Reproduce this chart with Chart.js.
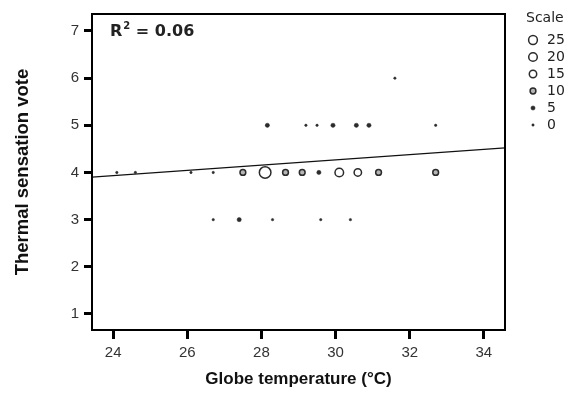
<!DOCTYPE html>
<html>
<head>
<meta charset="utf-8">
<script src="https://cdn.jsdelivr.net/npm/chart.js@4"></script>
<style>
  html, body { margin: 0; padding: 0; background: #fff; }
  #wrap { width: 571px; height: 401px; }
</style>
</head>
<body>
<div id="wrap"><canvas id="c" width="571" height="401"></canvas></div>
<script>
// observations: globe temperature, vote, and count ("Scale")
const globeTemp = [24.1, 24.6, 26.1, 26.7, 27.5, 28.1, 28.65, 29.1, 29.55, 30.1, 30.6, 31.16, 32.7,
                   26.7, 27.4, 28.3, 29.6, 30.4,
                   28.16, 29.2, 29.5, 29.93, 30.56, 30.9, 32.7,
                   31.6];
const sensationVote = [4, 4, 4, 4, 4, 4, 4, 4, 4, 4, 4, 4, 4,
                       3, 3, 3, 3, 3,
                       5, 5, 5, 5, 5, 5, 5,
                       6];
const scaleCount = [0, 0, 0, 0, 10, 25, 10, 10, 5, 20, 15, 10, 10,
                    0, 5, 0, 0, 0,
                    5, 0, 0, 5, 5, 5, 0,
                    0];

// fit line end points
const fitX = [23.43, 34.57];
const fitY = [3.90, 4.52];

const xTicks = [24, 26, 28, 30, 32, 34];
const yTicks = [1, 2, 3, 4, 5, 6, 7];
const legendScale = [25, 20, 15, 10, 5, 0];

const INK = "#2b2b2b";
const SANS = "'Liberation Sans', Arial, sans-serif";
const WIDE = "'DejaVu Sans', Verdana, sans-serif";

function markRadius(s) {
  if (s >= 25) return 5.8;
  if (s >= 20) return 4.3;
  if (s >= 15) return 3.7;
  if (s >= 10) return 2.9;
  if (s >= 5) return 2.1;
  return 1.2;
}
function markFill(s) {
  return s >= 15 ? "#ffffff" : (s >= 10 ? "#b5b5b5" : INK);
}
function markBorder(s) {
  return s >= 10 ? 1.5 : 0.5;
}

const points = globeTemp.map((t, i) => ({ x: t, y: sensationVote[i], s: scaleCount[i] }));

const frame = {
  id: "frame",
  afterDraw(chart) {
    const { ctx, chartArea: a } = chart;
    ctx.save();
    ctx.strokeStyle = "#000";
    ctx.lineWidth = 2;
    ctx.strokeRect(a.left, a.top, a.right - a.left, a.bottom - a.top);

    // R² label, with a raised 2
    ctx.fillStyle = "#222";
    ctx.textBaseline = "alphabetic";
    ctx.textAlign = "left";
    ctx.font = "bold 16px " + WIDE;
    let x = 110;
    ctx.fillText("R", x, 36);
    x += ctx.measureText("R").width + 1;
    ctx.font = "bold 10px " + WIDE;
    ctx.fillText("2", x, 29);
    x += ctx.measureText("2").width;
    ctx.font = "bold 16px " + WIDE;
    ctx.fillText(" = 0.06", x, 36);

    // size legend
    ctx.textBaseline = "middle";
    ctx.font = "14px " + WIDE;
    ctx.fillStyle = "#222";
    ctx.fillText("Scale", 526, 18);
    legendScale.forEach((s, i) => {
      const y = 40 + i * 17;
      ctx.beginPath();
      ctx.arc(533, y, markRadius(s) - (s >= 25 ? 1.4 : 0), 0, Math.PI * 2);
      ctx.fillStyle = markFill(s);
      ctx.fill();
      ctx.lineWidth = markBorder(s);
      ctx.strokeStyle = INK;
      ctx.stroke();
      ctx.fillStyle = "#222";
      ctx.fillText(String(s), 547, y);
    });
    ctx.restore();
  }
};

new Chart(document.getElementById("c"), {
  type: "scatter",
  data: {
    datasets: [
      {
        type: "line",
        data: fitX.map((x, i) => ({ x, y: fitY[i] })),
        borderColor: "#111",
        borderWidth: 1.3,
        pointRadius: 0,
        fill: false,
        order: 2
      },
      {
        data: points,
        pointRadius: ctx => markRadius(ctx.raw.s),
        pointBackgroundColor: ctx => markFill(ctx.raw.s),
        pointBorderColor: INK,
        pointBorderWidth: ctx => markBorder(ctx.raw.s),
        order: 1
      }
    ]
  },
  options: {
    responsive: false,
    animation: false,
    layout: { padding: { top: 12, right: 66, left: 0, bottom: 0 } },
    plugins: { legend: { display: false }, tooltip: { enabled: false } },
    scales: {
      x: {
        type: "linear",
        min: 23.43,
        max: 34.57,
        afterBuildTicks: s => { s.ticks = xTicks.map(v => ({ value: v })); },
        afterFit: s => { s.height = 71; },
        grid: { drawOnChartArea: false, tickLength: 9, tickWidth: 3, color: "#000" },
        border: { color: "#000", width: 2 },
        ticks: { color: "#333", font: { size: 15, family: SANS }, padding: 5 },
        title: {
          display: true,
          text: "Globe temperature (\u00b0C)",
          color: "#111",
          font: { size: 17, weight: "bold", family: SANS },
          padding: { top: 2, bottom: 11 }
        }
      },
      y: {
        min: 0.66,
        max: 7.36,
        afterBuildTicks: s => { s.ticks = yTicks.map(v => ({ value: v })); },
        afterFit: s => { s.width = 92; },
        grid: { drawOnChartArea: false, tickLength: 8, tickWidth: 3, color: "#000" },
        border: { color: "#000", width: 2 },
        ticks: { color: "#333", font: { size: 15, family: SANS }, padding: 5 },
        title: {
          display: true,
          text: "Thermal sensation vote",
          color: "#111",
          font: { size: 18.5, weight: "bold", family: SANS },
          padding: { top: 12, bottom: 4 }
        }
      }
    }
  },
  plugins: [frame]
});
</script>
</body>
</html>
